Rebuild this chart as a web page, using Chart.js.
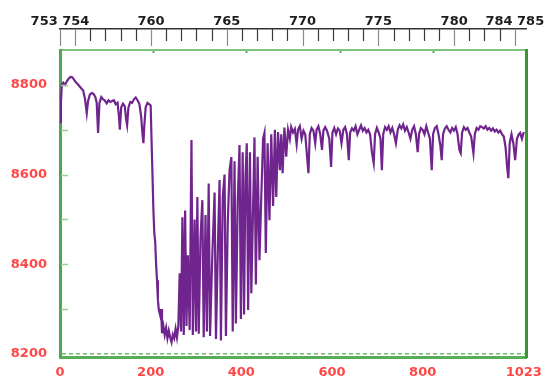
<!DOCTYPE html>
<html>
<head>
<meta charset="utf-8">
<script src="https://cdn.jsdelivr.net/npm/chart.js@4/dist/chart.umd.min.js"></script>
<style>
  html, body { margin: 0; padding: 0; background: #fff; }
  canvas { display: block; }
</style>
</head>
<body>
<canvas id="spec" width="550" height="387"></canvas>
<script>
// Detector channel numbers (pixel index along the array)
const channels = [
  0, 2, 4, 7, 11, 15, 19, 23, 27, 31,
  35, 39, 43, 47, 51, 55, 59, 62, 66, 70,
  74, 78, 81, 84, 87, 91, 95, 99, 103, 107,
  111, 115, 119, 123, 127, 130, 132, 135, 139, 143,
  146, 148, 151, 155, 159, 163, 167, 171, 175, 179,
  182, 184, 186, 189, 193, 197, 200, 202, 204, 206,
  208, 210, 212, 214, 216, 218, 221, 223, 225, 228,
  231, 234, 237, 240, 243, 246, 249, 252, 255, 258,
  261, 264, 267, 270, 273, 276, 279, 282, 286, 290,
  293, 297, 300, 303, 306, 310, 314, 317, 321, 324,
  328, 331, 336, 341, 344, 349, 352, 355, 359, 363,
  366, 370, 374, 378, 381, 385, 388, 392, 396, 399,
  403, 406, 409, 412, 415, 419, 422, 426, 429, 432,
  436, 440, 444, 448, 451, 454, 458, 462, 466, 470,
  474, 477, 481, 485, 488, 491, 495, 499, 503, 507,
  510, 514, 518, 522, 525, 529, 533, 537, 541, 545,
  548, 551, 555, 559, 563, 566, 570, 574, 578, 581,
  585, 589, 594, 598, 601, 605, 609, 613, 617, 621,
  625, 629, 633, 637, 640, 644, 648, 652, 656, 660,
  664, 668, 672, 676, 680, 684, 688, 692, 695, 699,
  703, 707, 710, 713, 717, 721, 725, 729, 733, 737,
  741, 745, 749, 753, 757, 761, 765, 769, 773, 777,
  781, 785, 789, 792, 796, 800, 804, 808, 812, 816,
  820, 823, 827, 831, 835, 839, 842, 845, 849, 853,
  857, 861, 865, 869, 873, 877, 881, 884, 887, 891,
  895, 899, 903, 907, 912, 915, 919, 923, 927, 931,
  935, 939, 943, 947, 951, 955, 959, 963, 967, 971,
  975, 979, 983, 986, 989, 992, 996, 1000, 1004, 1008,
  1012, 1015, 1019, 1023
];

// Recorded counts for each channel
const counts = [
  8717, 8760, 8800, 8805, 8800, 8808, 8814, 8818, 8817, 8812,
  8806, 8802, 8797, 8792, 8788, 8770, 8737, 8765, 8779, 8782,
  8780, 8773, 8760, 8693, 8760, 8773, 8768, 8765, 8759, 8766,
  8762, 8764, 8766, 8757, 8760, 8730, 8700, 8750, 8758, 8752,
  8722, 8710, 8750, 8762, 8760, 8768, 8772, 8766, 8758, 8730,
  8690, 8670, 8710, 8750, 8760, 8757, 8754, 8675, 8600, 8521,
  8470, 8450, 8400, 8364, 8320, 8298, 8286, 8300, 8246, 8262,
  8242, 8258, 8235, 8252, 8237, 8226, 8243, 8235, 8256, 8237,
  8262, 8380, 8250, 8505, 8242, 8520, 8262, 8420, 8253, 8677,
  8242, 8500, 8250, 8550, 8245, 8460, 8543, 8237, 8510, 8250,
  8580, 8240, 8420, 8560, 8233, 8470, 8588, 8230, 8550, 8600,
  8240, 8490, 8610, 8639, 8250, 8630, 8268, 8540, 8666, 8278,
  8650, 8288, 8590, 8670, 8298, 8650, 8335, 8530, 8683, 8355,
  8640, 8409, 8550, 8680, 8693, 8425, 8670, 8498, 8690, 8530,
  8700, 8550, 8695, 8610, 8690, 8603, 8705, 8640, 8700, 8680,
  8706, 8694, 8702, 8668, 8700, 8708, 8680, 8698, 8690, 8640,
  8603, 8690, 8704, 8698, 8670, 8700, 8708, 8690, 8655, 8698,
  8706, 8698, 8680, 8617, 8694, 8704, 8690, 8703, 8698, 8670,
  8700, 8706, 8690, 8632, 8694, 8703, 8698, 8708, 8690, 8700,
  8710, 8698, 8704, 8694, 8700, 8690, 8650, 8626, 8690, 8704,
  8694, 8680, 8610, 8690, 8706, 8700, 8708, 8694, 8704, 8690,
  8670, 8700, 8710, 8703, 8712, 8698, 8706, 8694, 8680, 8700,
  8708, 8690, 8650, 8690, 8704, 8700, 8690, 8708, 8694, 8680,
  8610, 8690, 8704, 8708, 8690, 8665, 8632, 8690, 8703, 8708,
  8700, 8694, 8704, 8698, 8706, 8690, 8655, 8648, 8694, 8706,
  8700, 8704, 8694, 8685, 8648, 8690, 8704, 8700, 8708, 8706,
  8703, 8708, 8700, 8704, 8698, 8703, 8696, 8700, 8694, 8698,
  8690, 8685, 8660, 8620, 8592, 8670, 8690, 8670, 8632, 8680,
  8690, 8693, 8680, 8695
];

// Axis ticks and labels
const countTicks = [8200, 8300, 8400, 8500, 8600, 8700, 8800];
const channelTicks = [0, 200, 400, 600, 800, 1023];
const wavelengthLabelNm = [754, 760, 765, 770, 775, 780, 784];
const wavelengthLabelText = ['753 754', '760', '765', '770', '775', '780', '784 785'];

const countRange = [8193, 8878];
const channelRange = [0, 1030];
const wavelengthRange = [754, 784.8];

if (channels.length !== counts.length) {
  throw new Error('channels/counts length mismatch: ' + channels.length + ' vs ' + counts.length);
}

const points = channels.map((c, i) => ({ x: c, y: counts[i] }));

const labelFont = { family: 'DejaVu Sans', size: 13, weight: 'bold' };
const RED = '#ff4747';

// Tick marks drawn inside the frame: hanging below the wavelength axis line,
// and pointing right from the counts axis
const innerTicks = {
  id: 'innerTicks',
  afterDraw(chart) {
    const ctx = chart.ctx;
    const nm = chart.scales.xNm;
    const cy = chart.scales.y;
    ctx.save();
    ctx.lineWidth = 1.2;
    nm.ticks.forEach(t => {
      const major = t.value % 5 === 0 || t.value === 754 || t.value === 784;
      const x = Math.round(nm.getPixelForValue(t.value)) + 0.5;
      ctx.strokeStyle = major ? '#8a8a8a' : '#3a3a3a';
      ctx.beginPath();
      ctx.moveTo(x, nm.bottom);
      ctx.lineTo(x, nm.bottom + (major ? 17 : 12));
      ctx.stroke();
    });
    ctx.strokeStyle = 'rgb(150,208,150)';
    ctx.lineWidth = 1.5;
    cy.ticks.forEach(t => {
      if (t.value === 8200) return;
      const y = Math.round(cy.getPixelForValue(t.value)) + 0.5;
      ctx.beginPath();
      ctx.moveTo(cy.right + 1, y);
      ctx.lineTo(cy.right + 8, y);
      ctx.stroke();
    });
    ctx.restore();
  }
};

new Chart(document.getElementById('spec'), {
  type: 'line',
  data: {
    datasets: [{
      data: points,
      borderColor: 'rgb(112,36,142)',
      borderWidth: 2.2,
      pointRadius: 0,
      tension: 0,
      xAxisID: 'x',
      yAxisID: 'y'
    }]
  },
  plugins: [innerTicks],
  options: {
    responsive: false,
    animation: false,
    devicePixelRatio: 1,
    layout: { padding: 0 },
    plugins: { legend: { display: false }, tooltip: { enabled: false } },
    scales: {
      x: {
        type: 'linear',
        position: 'bottom',
        min: channelRange[0],
        max: channelRange[1],
        afterBuildTicks: s => { s.ticks = channelTicks.map(v => ({ value: v })); },
        afterFit: s => { s.height = 30; },
        grid: { display: false, drawTicks: false },
        border: { display: true, color: 'rgb(88,172,88)', width: 3 },
        ticks: {
          color: RED, font: labelFont, padding: 8,
          autoSkip: false, maxRotation: 0, minRotation: 0,
          callback: v => String(v)
        }
      },
      // green frame edge along the top of the plot, with small channel marks
      xFrame: {
        type: 'linear',
        position: 'top',
        weight: 0,
        min: channelRange[0],
        max: channelRange[1],
        afterFit: s => { s.height = 21; },
        grid: {
          display: true, drawOnChartArea: false, drawTicks: true,
          tickLength: -3, tickColor: 'rgb(90,175,90)', tickWidth: 2
        },
        border: { display: true, color: 'rgb(125,198,125)', width: 2 },
        ticks: { display: false, stepSize: 200 }
      },
      // wavelength scale (nm)
      xNm: {
        type: 'linear',
        position: 'top',
        weight: 1,
        min: wavelengthRange[0],
        max: wavelengthRange[1],
        afterBuildTicks: s => {
          const t = [];
          for (let nm = 754; nm <= 784; nm++) t.push({ value: nm });
          s.ticks = t;
        },
        afterFit: s => { s.height = 29; },
        grid: { display: false, drawTicks: false },
        border: { display: true, color: '#333', width: 1.5 },
        ticks: {
          color: '#1e1e1e', font: labelFont, padding: 0,
          autoSkip: false, maxRotation: 0, minRotation: 0,
          callback: v => {
            const k = wavelengthLabelNm.indexOf(v);
            return k >= 0 ? wavelengthLabelText[k] : '';
          }
        }
      },
      y: {
        type: 'linear',
        position: 'left',
        min: countRange[0],
        max: countRange[1],
        afterBuildTicks: s => { s.ticks = countTicks.map(v => ({ value: v })); },
        afterFit: s => { s.width = 60; },
        grid: {
          display: true, drawOnChartArea: true, drawTicks: false,
          color: c => (c.tick && c.tick.value === 8200) ? 'rgb(110,185,110)' : 'rgba(0,0,0,0)',
          lineWidth: 1.5
        },
        border: { display: true, color: 'rgb(78,168,78)', width: 3, dash: [4, 3] },
        ticks: {
          color: RED, font: labelFont, padding: 13, autoSkip: false,
          callback: v => (v % 200 === 0 ? String(v) : '')
        }
      },
      yRight: {
        type: 'linear',
        position: 'right',
        min: countRange[0],
        max: countRange[1],
        afterFit: s => { s.width = 22; },
        grid: { display: false, drawTicks: false },
        border: { display: true, color: 'rgb(58,150,48)', width: 3 },
        ticks: { display: false }
      }
    }
  }
});
</script>
</body>
</html>
